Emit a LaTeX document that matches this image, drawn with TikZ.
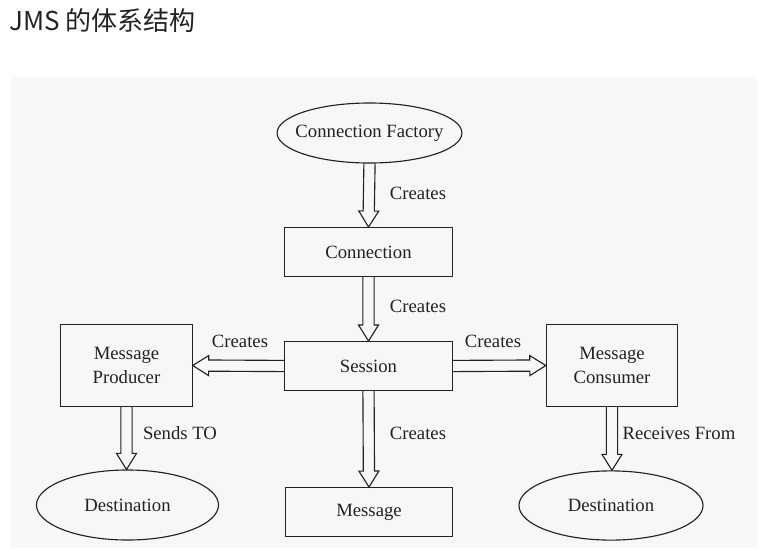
\documentclass[tikz,border=0pt]{standalone}
\usepackage{fontspec}
\setmainfont{Liberation Serif}
\newfontfamily\cjkfont{Noto Sans CJK SC}
\usetikzlibrary{shapes.geometric,calc}
\definecolor{panelgray}{RGB}{247,247,247}
\definecolor{inkgray}{RGB}{34,34,34}
\tikzset{
  jmsfont/.style={font=\fontsize{13.3}{17.7}\selectfont, text=inkgray},
  box/.style={draw=inkgray, line width=0.8pt, jmsfont, minimum width=4.18cm, minimum height=1.22cm, align=center},
  bigbox/.style={box, minimum width=3.28cm, minimum height=2.03cm},
  oval/.style={ellipse, draw=inkgray, line width=0.8pt, jmsfont, inner sep=0pt},
  lbl/.style={jmsfont, inner sep=1pt},
  fatarrow/.style={draw=inkgray, line width=0.8pt, line join=miter, to path={
    ($(\tikztotarget)!0.4cm!(\tikztostart)$) coordinate (fa base)
    ($(\tikztostart)!0.14cm!90:(\tikztotarget)$) -- ($(fa base)!0.14cm!90:(\tikztotarget)$)
    -- ($(fa base)!0.25cm!90:(\tikztotarget)$) -- (\tikztotarget)
    -- ($(fa base)!0.25cm!-90:(\tikztotarget)$) -- ($(fa base)!0.14cm!-90:(\tikztotarget)$)
    -- ($(\tikztostart)!0.14cm!-90:(\tikztotarget)$)}}
}
\begin{document}
\begin{tikzpicture}[x=0.025cm, y=-0.025cm]
    \useasboundingbox (0,0) rectangle (759,548);
    \fill[panelgray] (11,77) rectangle (757,548);
    \node[anchor=west, inner sep=0pt, text=inkgray, font=\cjkfont\fontsize{18.5}{22}\selectfont] (title) at (9,21) {JMS 的体系结构};
    % nodes
    \node[oval, inner xsep=-7pt, minimum width=4.62cm, minimum height=1.5cm] (fac) at (369.5,133) {Connection Factory};
    \node[box] (con) at (368.5,252) {Connection};
    \node[box] (sess) at (368.5,366) {Session};
    \node[box] (msg) at (369,512) {Message};
    \node[bigbox] (prod) at (126.5,365.5) {Message\\Producer};
    \node[bigbox] (cons) at (612,365.5) {Message\\Consumer};
    \node[oval, minimum width=4.55cm, minimum height=1.75cm] (destl) at (127.5,505) {Destination};
    \node[oval, minimum width=4.6cm, minimum height=1.73cm] (destr) at (611,505.5) {Destination};
    % arrows
    \draw[fatarrow] (fac.south) to (con.north);
    \draw[fatarrow] (con.south) to (sess.north);
    \draw[fatarrow] (sess.south) to (msg.north);
    \draw[fatarrow] (sess.west) to (prod.east);
    \draw[fatarrow] (sess.east) to (cons.west);
    \draw[fatarrow] (prod.south) to (prod.south |- destl.north);
    \draw[fatarrow] (cons.south) to (cons.south |- destr.north);
    % labels
    \node[lbl] (c1) at (418,193) {Creates};
    \node[lbl] (c2) at (418,306) {Creates};
    \node[lbl] (c3) at (418,433) {Creates};
    \node[lbl] (c4) at (240,341) {Creates};
    \node[lbl] (c5) at (493,341) {Creates};
    \node[lbl] (snd) at (180,433) {Sends TO};
    \node[lbl] (rcv) at (679,433) {Receives From};
\end{tikzpicture}
\end{document}
